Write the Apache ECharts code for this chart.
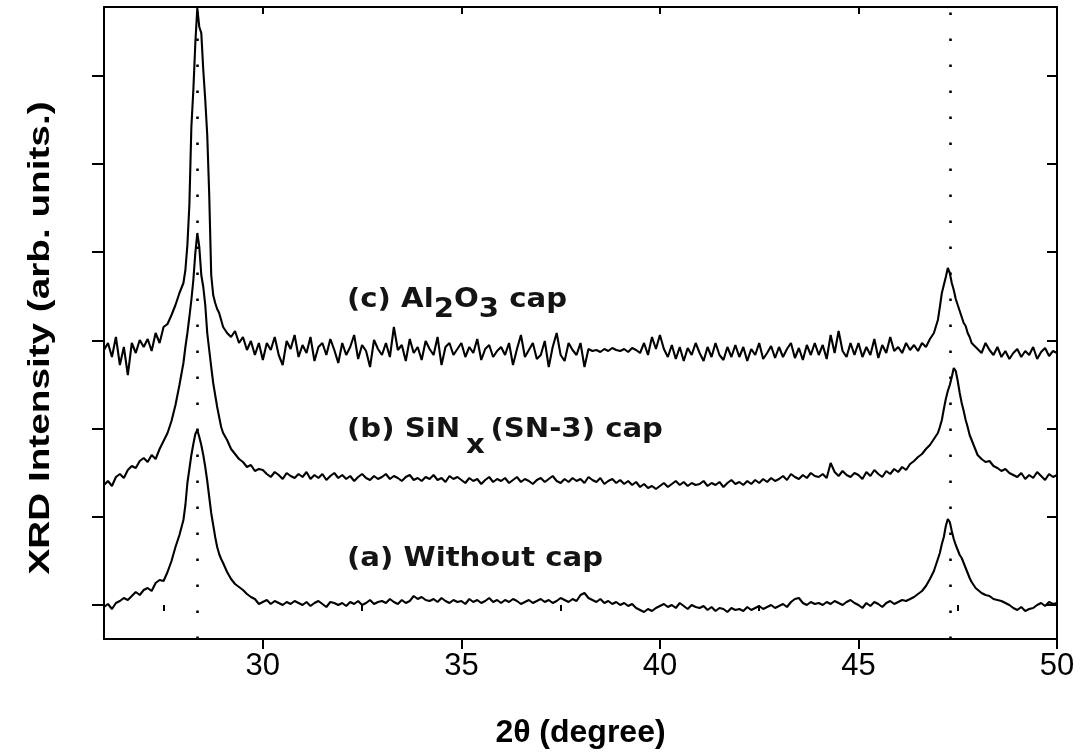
<!DOCTYPE html>
<html>
<head>
<meta charset="utf-8">
<script src="https://cdn.jsdelivr.net/npm/echarts@6/dist/echarts.min.js"></script>
<style>
  html, body { margin: 0; padding: 0; background: #fff; }
  #chart { width: 1082px; height: 755px; }
</style>
</head>
<body>
<div id="chart"></div>
<script>
// Scan range in 2θ (degree); 0.1° steps, 0.05° steps across the Si(111) and Si(220) reflections
const thetaStart = 26;
const thetaEnd = 50;
const fineDegrees = [28, 47];

// Intensities (arb. units, curves offset vertically), one row per degree of 2θ
const intensityA = [ // (a) Without cap
  -2, 1, -4, 2, 4, 7, 5, 9, 13, 10,
  15, 17, 14, 22, 25, 24, 33, 44, 58, 70,
  85, 100, 122, 136, 150, 161, 171, 175, 168, 160, 150, 138, 124, 108, 92, 80, 68, 58, 51, 46,
  42, 33, 26, 21, 18, 15, 11, 8, 6, 1,
  3, 5, 1, 4, 2, 0, 3, 1, 4, 2,
  0, 3, -1, 2, 4, 1, -2, 3, 2, 0,
  2, -1, 3, 1, 4, 0, 2, 5, 1, 3,
  4, 2, 6, 3, 1, 5, 2, 4, 9, 6,
  8, 5, 4, 6, 3, 7, 4, 2, 5, 3,
  4, 1, 6, 3, 5, 2, 4, 7, 3, 5,
  2, 5, 3, 6, 4, 1, 3, 5, 2, 4,
  6, 3, 5, 2, 4, 7, 5, 3, 6, 4,
  10, 12, 7, 5, 3, 6, 2, 4, 1, 3,
  0, 2, -1, 1, -3, -5, -7, -4, -6, -3,
  -1, 1, -2, 0, -3, 2, -1, -4, 0, -2,
  -3, -1, -5, -2, -6, -3, -4, -7, -3, -5,
  -4, -6, -2, -5, -3, -1, -4, -2, 0, -3,
  -1, 1, -2, 3, 6, 7, 2, 0, 3, 1,
  2, 0, 3, 1, 4, 2, 0, 3, 5, 2,
  0, -3, 2, -1, 3, 1, -2, 2, 4, 1,
  3, 5, 4, 6, 8, 11, 14, 19, 26, 34,
  46, 52, 61, 68, 79, 86, 83, 74, 66, 60, 55, 50, 47, 42, 37, 32, 27, 23, 20, 17,
  15, 12, 10, 9, 6, 5, 4, 2, 0, -3,
  -5, -2, -6, -4, -3, 0, 2, -1, 3, 1,
  2
];

const intensityB = [ // (b) SiNx (SN-3) cap
  120, 124, 119, 128, 131, 127, 135, 139, 137, 144,
  147, 143, 150, 146, 156, 164, 172, 184, 200, 220,
  242, 258, 272, 288, 305, 325, 352, 372, 358, 330, 318, 300, 272, 255, 238, 222, 210, 198, 188, 178,
  172, 165, 156, 151, 146, 143, 138, 140, 134, 136,
  135, 131, 128, 133, 130, 126, 132, 129, 127, 131,
  128, 133, 126, 130, 127, 131, 125, 129, 132, 127,
  130, 126, 129, 124, 128, 131, 127, 125, 129, 126,
  128, 131, 126, 129, 127, 124, 128, 130, 125, 127,
  124, 128, 126, 130, 125, 127, 123, 129, 126, 128,
  125, 122, 127, 124, 126, 121, 125, 128, 123, 126,
  124, 127, 122, 125, 128, 123, 126, 124, 121, 125,
  127, 123, 126, 129, 124, 122, 126, 123, 127, 124,
  126, 122, 128, 125, 123, 127, 121, 124, 126, 122,
  125, 121, 124, 120, 123, 118, 121, 117, 119, 116,
  119, 122, 118, 121, 124, 120, 123, 119, 122, 120,
  121, 124, 119, 122, 120, 123, 118, 122, 125, 121,
  123, 120, 124, 121, 125, 122, 126, 123, 127, 124,
  126, 129, 125, 131, 128, 126, 130, 127, 132, 129,
  128, 131, 127, 142, 133, 129, 134, 130, 128, 132,
  130, 126, 133, 129, 135, 131, 128, 134, 131, 136,
  133, 138, 135, 141, 144, 148, 151, 156, 160, 166,
  172, 178, 185, 196, 206, 214, 220, 228, 237, 234, 224, 212, 202, 194, 185, 178, 170, 165, 160, 155,
  150, 146, 143, 144, 139, 137, 134, 136, 132, 130,
  128, 132, 126, 130, 127, 133, 129, 125, 131, 128,
  130
];

const intensityC = [ // (c) Al2O3 cap
  255, 262, 248, 268, 240, 258, 230, 262, 252, 265,
  258, 266, 254, 272, 262, 278, 281, 290, 300, 312,
  322, 335, 360, 400, 478, 515, 562, 597, 578, 572, 535, 505, 470, 410, 330, 310, 302, 296, 292, 285,
  278, 272, 268, 274, 262, 268, 255, 264, 250, 262,
  245, 262, 255, 268, 250, 240, 264, 256, 270, 248,
  260, 252, 268, 244, 258, 262, 250, 266, 255, 242,
  262, 250, 258, 270, 246, 260, 254, 238, 265, 256,
  250, 262, 248, 278, 255, 260, 244, 266, 252, 258,
  245, 264, 256, 250, 268, 240, 258, 262, 250, 256,
  262, 248, 258, 252, 266, 245, 256, 260, 248, 254,
  258, 250, 262, 240, 256, 270, 248, 255, 262, 246,
  250, 264, 238, 258, 272, 250, 244, 262, 255, 250,
  262, 238, 256, 254, 255, 253, 256, 254, 257, 255,
  254, 256, 253, 257, 255, 252, 262, 250, 268, 256,
  270, 256, 248, 260, 246, 258, 244, 257, 250, 262,
  252, 244, 258, 248, 262, 250, 245, 258, 248, 260,
  248, 258, 244, 256, 250, 262, 246, 252, 259, 247,
  258, 248, 256, 262, 247, 257, 245, 260, 250, 262,
  250, 260, 246, 270, 252, 274, 254, 248, 262, 250,
  262, 248, 258, 250, 266, 247, 260, 252, 268, 254,
  258, 252, 262, 255, 260, 254, 262, 258, 266, 272,
  285, 298, 312, 320, 328, 337, 332, 322, 315, 306, 300, 294, 288, 282, 279, 272, 268, 262, 264, 258,
  260, 252, 262, 255, 250, 258, 248, 254, 246, 252,
  256, 248, 254, 250, 258, 246, 253, 257, 249, 254,
  252
];

// Si reflections marked by dotted guide lines
const siPeaks = [28.35, 47.3];

// Tick positions
const xMajorTicks = [30, 35, 40, 45, 50];
const xMinorTicks = [27.5, 32.5, 37.5, 42.5, 47.5];
const yTicks = [0, 88, 176, 264, 353, 441, 529];

const yTitle = 'XRD Intensity (arb. units.)';
const xTitle = '2\u03b8 (degree)';

// 2θ sampling grid
const twoTheta = [];
for (let d = thetaStart; d < thetaEnd; d++) {
  const n = fineDegrees.includes(d) ? 20 : 10;
  for (let k = 0; k < n; k++) twoTheta.push(+(d + k / n).toFixed(2));
}
twoTheta.push(thetaEnd);

const pairs = arr => twoTheta.map((t, i) => [t, arr[i]]);

const black = '#000';
const frame = { show: true, onZero: false, lineStyle: { color: black, width: 2 } };
const noLabel = { show: false };
const noSplit = { show: false };
const tickLabelFont = "'Liberation Sans Narrow', 'Liberation Sans', Arial, sans-serif";
const annoFont = "'DejaVu Sans', Verdana, sans-serif";

function xAxisDef(position, ticks, length, inside, showLine, label) {
  return {
    type: 'value', position, min: thetaStart, max: thetaEnd,
    axisLine: showLine ? frame : { show: false },
    axisTick: { show: true, inside, length, customValues: ticks, lineStyle: { color: black, width: 2 } },
    axisLabel: label || noLabel,
    splitLine: noSplit
  };
}

const yMin = -34, yMax = 598;
function yAxisDef(position, length, inside) {
  return {
    type: 'value', position, min: yMin, max: yMax,
    axisLine: frame,
    axisTick: { show: true, inside, length, customValues: yTicks, lineStyle: { color: black, width: 2 } },
    axisLabel: noLabel,
    splitLine: noSplit
  };
}

const bottomMajor = xAxisDef('bottom', xMajorTicks, 10, false, true, {
  show: true, customValues: xMajorTicks, margin: 12, color: black,
  fontSize: 31, fontFamily: tickLabelFont
});
bottomMajor.name = xTitle;
bottomMajor.nameLocation = 'middle';
bottomMajor.nameGap = 78;
bottomMajor.nameTextStyle = { color: black, fontSize: 32, fontWeight: 'bold', fontFamily: "'Liberation Sans', Arial, sans-serif" };

const lineSeries = (name, arr) => ({
  name, type: 'line', data: pairs(arr), xAxisIndex: 0, yAxisIndex: 0,
  showSymbol: false, symbol: 'none', smooth: false, clip: true,
  lineStyle: { color: black, width: 2.1 }, silent: true
});

// Sample captions; subscripts sit lower by `shift` px at the same size
function captionRich(shift) {
  const base = { fontSize: 27, fontWeight: 'bold', fontFamily: annoFont, fill: '#141414', lineHeight: 30 };
  return {
    n: Object.assign({}, base, { padding: [0, 0, shift, 0] }),
    s: Object.assign({}, base, { padding: [shift, 0, 0, 0] })
  };
}
function caption(text, x, y, shift) {
  return {
    type: 'text', x, y, scaleX: 1.08,
    style: { text, rich: captionRich(shift), x: 0, y: 0, align: 'left', verticalAlign: 'top' }
  };
}

const chart = echarts.init(document.getElementById('chart'), null, { renderer: 'canvas' });
chart.setOption({
  animation: false,
  backgroundColor: '#fff',
  grid: { left: 104, right: 25, top: 7, bottom: 116, containLabel: false },
  xAxis: [
    bottomMajor,
    xAxisDef('bottom', xMinorTicks, 6, false, false),
    xAxisDef('top', xMajorTicks, 7, true, true),
    xAxisDef('top', xMinorTicks, 4, true, false)
  ],
  yAxis: [
    yAxisDef('left', 12, false),
    yAxisDef('right', 10, true)
  ],
  series: [
    lineSeries('(a) Without cap', intensityA),
    lineSeries('(b) SiNx (SN-3) cap', intensityB),
    Object.assign(lineSeries('(c) Al2O3 cap', intensityC), {
      markLine: {
        silent: true, symbol: ['none', 'none'],
        label: { show: false },
        lineStyle: { color: black, width: 2.6, type: [2.6, 23.4] },
        data: siPeaks.map(v => ({ xAxis: v }))
      }
    })
  ],
  graphic: [
    {
      type: 'text', x: 41, y: 338, rotation: Math.PI / 2, scaleX: 1.29,
      style: { text: yTitle, font: "bold 30px 'Liberation Sans', Arial, sans-serif", fill: black, align: 'center', verticalAlign: 'middle' }
    },
    caption('{n|(c) Al}{s|2}{n|O}{s|3}{n| cap}', 347, 290, 10),
    caption('{n|(b) SiN}{s|\u2009x}{n|\u2009(SN-3) cap}', 347, 423, 16),
    caption('{n|(a) Without cap}', 347, 544, 0)
  ]
});
</script>
</body>
</html>
